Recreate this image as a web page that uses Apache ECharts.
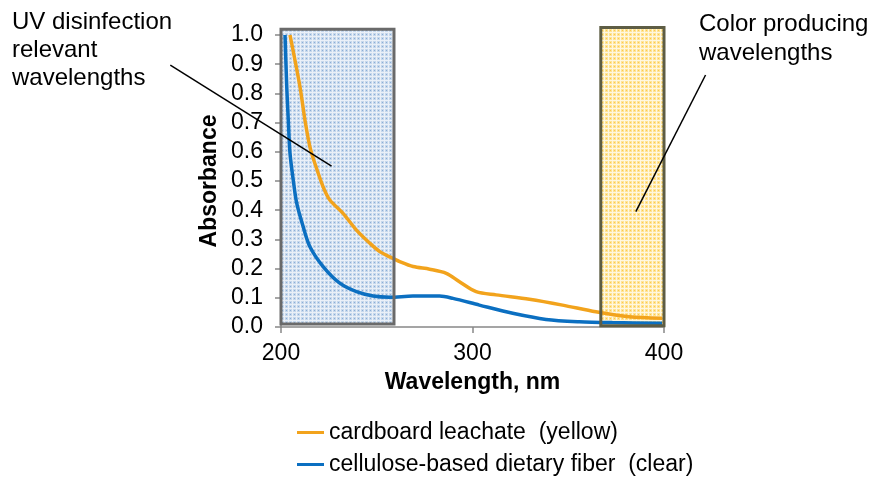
<!DOCTYPE html>
<html><head><meta charset="utf-8">
<script src="https://cdn.jsdelivr.net/npm/echarts@6/dist/echarts.min.js"></script>
<style>html,body{margin:0;padding:0;background:#fff}#c{width:875px;height:485px}</style>
</head><body><div id="c"></div>
<script>
// ---- data ----
const seriesNames = ['cardboard leachate  (yellow)', 'cellulose-based dietary fiber  (clear)'];
const wlCardboard = [204.7, 209.9, 212.5, 215.1, 217.7, 222.0, 225.5, 232.4, 239.4, 246.4, 251.6, 256.8, 262, 269, 277.6, 286.3, 293.2, 301.9, 312.3, 329.7, 347, 364.4, 381.8, 399];
const absCardboard = [1.0, 0.823, 0.709, 0.617, 0.560, 0.480, 0.435, 0.389, 0.332, 0.287, 0.258, 0.240, 0.224, 0.207, 0.198, 0.184, 0.155, 0.121, 0.110, 0.095, 0.075, 0.052, 0.035, 0.030];
const wlFiber = [202.1, 203.0, 203.8, 204.7, 206.4, 208.2, 211.6, 215.1, 222.0, 230.7, 239.4, 248.1, 256.8, 268.9, 282.8, 289.8, 303.6, 321, 338.4, 355.7, 373, 399];
const absFiber = [1.0, 0.823, 0.709, 0.595, 0.503, 0.424, 0.343, 0.275, 0.207, 0.150, 0.121, 0.106, 0.102, 0.106, 0.106, 0.098, 0.075, 0.047, 0.026, 0.018, 0.015, 0.013];
const uvBand = [200, 259];      // wavelength range, nm
const colorBand = [367, 400];   // wavelength range, nm
const xTicks = [200, 300, 400];
const yTicks = [0, 0.1, 0.2, 0.3, 0.4, 0.5, 0.6, 0.7, 0.8, 0.9, 1.0];
const uvLabel = 'UV disinfection\nrelevant\nwavelengths';
const colorLabel = 'Color producing\nwavelengths';
const xTitle = 'Wavelength, nm';
const yTitle = 'Absorbance';

const FONT = 'Liberation Sans, Arial, sans-serif';
const FS = 23;
const chart = echarts.init(document.getElementById('c'), null, {renderer: 'canvas'});

function pair(xs, ys) { return xs.map((x, i) => [x, ys[i]]); }

chart.setOption({
  animation: false,
  backgroundColor: '#fff',
  textStyle: {fontFamily: FONT, color: '#000'},
  grid: {left: 281, right: 211, top: 35, bottom: 158, containLabel: false},
  xAxis: {
    type: 'value', min: xTicks[0], max: xTicks[xTicks.length - 1], interval: 100,
    name: xTitle, nameLocation: 'middle', nameGap: 44,
    nameTextStyle: {fontFamily: FONT, fontWeight: 'bold', fontSize: FS, color: '#000'},
    axisLine: {show: true, lineStyle: {color: '#888', width: 1.5}},
    axisTick: {show: true, length: 6, lineStyle: {color: '#888', width: 1.5}},
    axisLabel: {fontFamily: FONT, fontSize: FS, color: '#000', margin: 15},
    splitLine: {show: false}
  },
  yAxis: {
    type: 'value', min: 0, max: 1, interval: 0.1,
    name: yTitle, nameLocation: 'middle', nameGap: 60, nameRotate: 90,
    nameTextStyle: {fontFamily: FONT, fontWeight: 'bold', fontSize: FS, color: '#000'},
    axisLine: {show: true, lineStyle: {color: '#888', width: 1.5}},
    axisTick: {show: true, length: 6, lineStyle: {color: '#888', width: 1.5}},
    axisLabel: {fontFamily: FONT, fontSize: FS, color: '#000', margin: 18,
      formatter: v => v.toFixed(1)},
    splitLine: {show: false}
  },
  legend: {
    orient: 'vertical', left: 292, top: 416, itemGap: 9,
    itemWidth: 27, itemHeight: 3, icon: 'rect',
    textStyle: {fontFamily: FONT, fontSize: FS, color: '#000', lineHeight: 23},
    data: seriesNames
  },
  series: [
    {name: seriesNames[0], type: 'line', data: pair(wlCardboard, absCardboard), smooth: 0.3,
     symbol: 'none', lineStyle: {color: '#f2a31c', width: 3.5}, itemStyle: {color: '#f2a31c'}, z: 5},
    {name: seriesNames[1], type: 'line', data: pair(wlFiber, absFiber), smooth: 0.3,
     symbol: 'none', lineStyle: {color: '#0b6fc1', width: 3.5}, itemStyle: {color: '#0b6fc1'}, z: 5}
  ]
});

function makePattern(bg, line, dot) {
  const cv = document.createElement('canvas');
  cv.width = 4; cv.height = 4;
  const g = cv.getContext('2d');
  g.fillStyle = '#fff'; g.fillRect(0, 0, 4, 4);
  g.fillStyle = bg; g.fillRect(1, 1, 3, 3);
  g.fillStyle = line; g.fillRect(0, 0, 4, 1); g.fillRect(0, 1, 1, 3);
  g.fillStyle = dot; g.fillRect(2, 2, 1, 1);
  return {image: cv, repeat: 'repeat'};
}

const P = v => chart.convertToPixel({gridIndex: 0}, v);
const bTL = P([uvBand[0], 1.02]), bBR = P([uvBand[1], 0.01]);
const yTL = P([colorBand[0], 1.026]), yBR = P([colorBand[1], 0.004]);
const a1 = P([142.2, 0.897]), a2 = P([226.4, 0.551]);
const c1 = P([421.7, 0.863]), c2 = P([385.3, 0.395]);

chart.setOption({
  graphic: [
    {type: 'rect', z: 1, shape: {x: bTL[0], y: bTL[1], width: bBR[0] - bTL[0], height: bBR[1] - bTL[1]},
     style: {fill: makePattern('#c6d8ec', '#eaf0f8', '#8cadd6'), stroke: null}},
    {type: 'rect', z: 1, shape: {x: yTL[0], y: yTL[1], width: yBR[0] - yTL[0], height: yBR[1] - yTL[1]},
     style: {fill: makePattern('#ffe497', '#fff7e0', '#fcc94e'), stroke: null}},
    {type: 'rect', z: 10, shape: {x: bTL[0], y: bTL[1], width: bBR[0] - bTL[0], height: bBR[1] - bTL[1]},
     style: {fill: 'none', stroke: '#6a6a6a', lineWidth: 3}},
    {type: 'rect', z: 10, shape: {x: yTL[0], y: yTL[1], width: yBR[0] - yTL[0], height: yBR[1] - yTL[1]},
     style: {fill: 'none', stroke: '#5e5d44', lineWidth: 3}},
    {type: 'line', z: 11, shape: {x1: a1[0], y1: a1[1], x2: a2[0], y2: a2[1]}, style: {stroke: '#000', lineWidth: 1.5}},
    {type: 'line', z: 11, shape: {x1: c1[0], y1: c1[1], x2: c2[0], y2: c2[1]}, style: {stroke: '#000', lineWidth: 1.5}},
    {type: 'text', z: 12, left: 12, top: 8,
     style: {text: uvLabel, font: (FS + 1) + 'px ' + FONT, fill: '#000', lineHeight: 28}},
    {type: 'text', z: 12, left: 699, top: 10,
     style: {text: colorLabel, font: (FS + 1) + 'px ' + FONT, fill: '#000', lineHeight: 29}}
  ]
});
</script></body></html>
